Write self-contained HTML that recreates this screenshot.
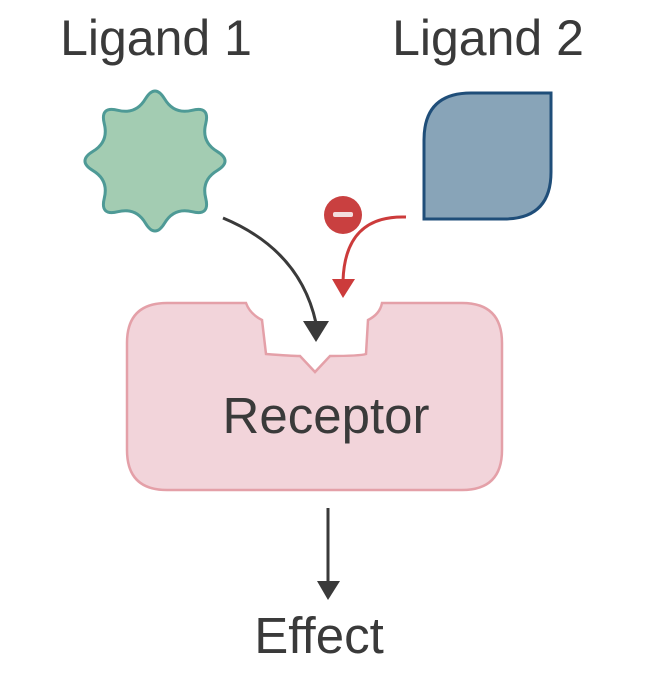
<!DOCTYPE html>
<html><head><meta charset="utf-8"><style>
html,body{margin:0;padding:0;background:#fff;}
svg{display:block;}
text{font-family:"Liberation Sans",sans-serif;fill:#3a3a3a;}
</style></head><body>
<svg width="660" height="687" viewBox="0 0 660 687">
<text x="156" y="55" font-size="50" text-anchor="middle">Ligand 1</text>
<text x="488" y="55" font-size="50" text-anchor="middle">Ligand 2</text>
<!-- star -->
<path id="star" fill="#a3ccb2" stroke="#4e9a96" stroke-width="3" stroke-linejoin="round" d=""/>
<script>
(function(){var cx=155,cy=161,R=78,r=50,P=[];
for(var i=0;i<16;i++){var a=-Math.PI/2+i*Math.PI/8;var rr=i%2?r:R;
P.push([cx+rr*Math.cos(a),cy+rr*Math.sin(a)]);}
function m(a,b){return [(a[0]+b[0])/2,(a[1]+b[1])/2];}
var s=m(P[15],P[0]),d="M"+s[0].toFixed(1)+","+s[1].toFixed(1);
for(var i=0;i<16;i++){var c=P[i],e=m(P[i],P[(i+1)%16]);
d+="Q"+c[0].toFixed(1)+","+c[1].toFixed(1)+" "+e[0].toFixed(1)+","+e[1].toFixed(1);}
document.getElementById("star").setAttribute("d",d+"Z");})();
</script>
<!-- leaf -->
<path d="M424,219 L424,140 Q424,93 471,93 L551,93 L551,172 Q551,219 504,219 Z" fill="#88a4b8" stroke="#1f4e79" stroke-width="3"/>
<!-- receptor -->
<path d="M167,303 L246,303 Q250,314 262,320 L266,354 Q292,356 300,356 L315,372 L330,356 Q360,356 366,354 L368,320 Q380,314 382,303 L462,303 Q502,303 502,343 L502,450 Q502,490 462,490 L167,490 Q127,490 127,450 L127,343 Q127,303 167,303 Z" fill="#f2d4da" stroke="#e4a0a8" stroke-width="2.5"/>
<text x="326" y="433" font-size="51" text-anchor="middle">Receptor</text>
<!-- black arrow -->
<path d="M223,218 Q300,250 316,323" fill="none" stroke="#3a3a3a" stroke-width="3"/>
<polygon points="303,321 329,321 316,342" fill="#3a3a3a"/>
<!-- red arrow -->
<path d="M406,217 Q345,215 343,281" fill="none" stroke="#cc3b3b" stroke-width="3"/>
<polygon points="332,279 355,279 343,298" fill="#cc3b3b"/>
<circle cx="343" cy="215" r="19" fill="#c94040"/>
<rect x="333" y="212" width="20" height="5" rx="2" fill="#f3dede"/>
<!-- effect arrow -->
<line x1="328" y1="508" x2="328" y2="584" stroke="#3a3a3a" stroke-width="3"/>
<polygon points="317,581 340,581 328,600" fill="#3a3a3a"/>
<text x="319" y="653" font-size="51" text-anchor="middle">Effect</text>
</svg>
</body></html>
